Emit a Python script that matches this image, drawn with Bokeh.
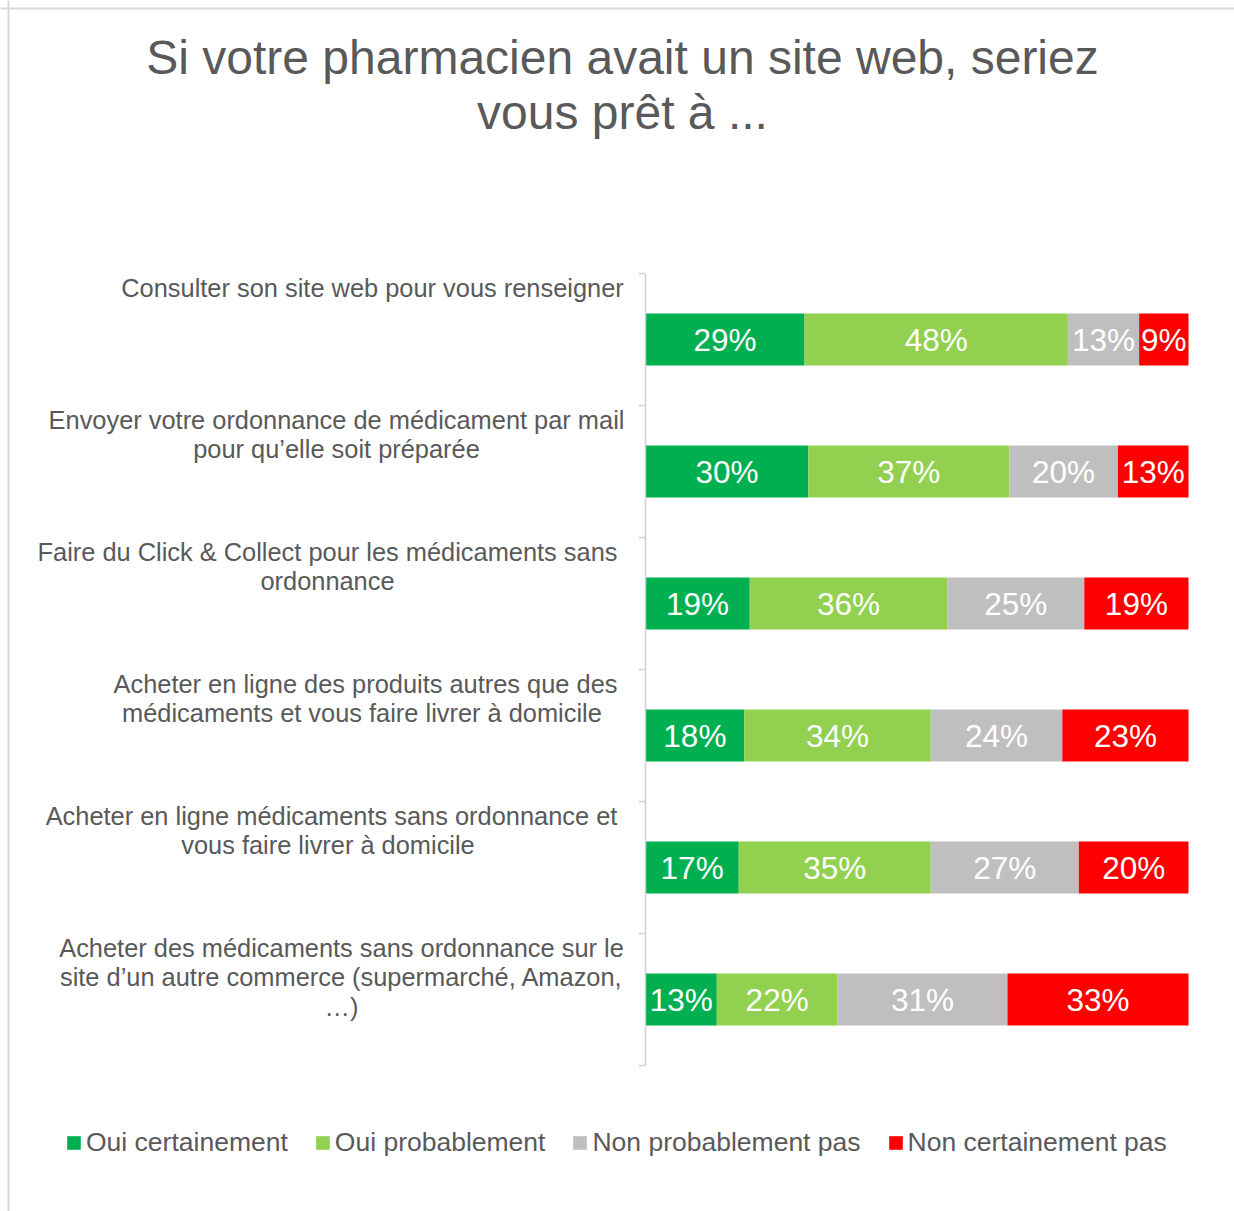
from bokeh.plotting import figure
from bokeh.models import ColumnDataSource, Range1d, Legend, LegendItem, Span
from bokeh.core.properties import value
from bokeh.embed import file_html
from bokeh.resources import INLINE

# ---------------- data ----------------
categories = [
    "Consulter son site web pour vous renseigner",
    "Envoyer votre ordonnance de médicament par mail\npour qu’elle soit préparée",
    "Faire du Click & Collect pour les médicaments sans\nordonnance",
    "Acheter en ligne des produits autres que des\nmédicaments et vous faire  livrer à domicile",
    "Acheter en ligne médicaments sans ordonnance et\nvous faire  livrer à domicile",
    "Acheter des médicaments sans ordonnance sur le\nsite d’un autre commerce (supermarché, Amazon,\n…)",
]
series_names = ["Oui certainement", "Oui probablement", "Non probablement pas", "Non certainement pas"]
oui_certainement = [29, 30, 19, 18, 17, 13]
oui_probablement = [48, 37, 36, 34, 35, 22]
non_probablement_pas = [13, 20, 25, 24, 27, 31]
non_certainement_pas = [9, 13, 19, 23, 20, 33]
series_values = [oui_certainement, oui_probablement, non_probablement_pas, non_certainement_pas]
title_lines = ["Si votre pharmacien avait un site web, seriez", "vous prêt à ..."]

# ---------------- style / layout ----------------
colors = ["#00B050", "#92D050", "#BFBFBF", "#FF0000"]
FONT = "Liberation Sans"
TEXT_COLOR = "#595959"
W, H = 1234, 1211
ZERO_PX = 645      # x where bars start
FULL_PX = 543      # full bar length in px
ROW0_PX = 339      # y of first row centre
ROW_PX = 132       # row pitch in px
BORDER_PX = 8
label_centers_px = [372, 336, 327, 365, 331, 341]
title_center_px = 622
title_baselines_px = [57, 112]
BAR_H = 52 / ROW_PX


def xd(px):
    return (px - ZERO_PX) / FULL_PX * 100.0


def yd(py):
    return (py - ROW0_PX) / ROW_PX


p = figure(
    width=W, height=H,
    x_range=Range1d(xd(0), xd(W)),
    y_range=Range1d(yd(H), yd(0)),
    output_backend="svg", toolbar_location=None,
    x_axis_location=None, y_axis_location=None,
    min_border=0,
)
p.grid.visible = False
p.outline_line_color = None
p.background_fill_color = "white"
p.border_fill_color = "white"

# chart-area border (top and left visible)
p.add_layout(Span(location=xd(BORDER_PX), dimension="height", line_color="#d9d9d9", line_width=2))
p.add_layout(Span(location=yd(BORDER_PX), dimension="width", line_color="#d9d9d9", line_width=2))

n = len(categories)
rows = list(range(n))
totals = [sum(s[i] for s in series_values) for i in rows]

renderers = []
cum = [0.0] * n
for name, vals, col in zip(series_names, series_values, colors):
    left = [cum[i] for i in rows]
    right = [cum[i] + vals[i] / totals[i] * 100.0 for i in rows]
    cum = right
    src = ColumnDataSource(dict(
        y=rows, left=left, right=right,
        mid=[(l + r) / 2 for l, r in zip(left, right)],
        lab=[f"{v}%" for v in vals],
    ))
    r = p.hbar(y="y", left="left", right="right", height=BAR_H, source=src,
               fill_color=col, line_color=None)
    renderers.append(r)
    p.text(x="mid", y="y", text="lab", source=src, text_color="white",
           text_font=value(FONT), text_font_size="31.5px",
           text_align="center", text_baseline="middle")

# axis line with ticks at category boundaries
edges = [i - 0.5 for i in range(n + 1)]
p.segment(x0=[0], y0=[edges[0]], x1=[0], y1=[edges[-1]], line_color="#d0d0d0", line_width=1.5)
p.segment(x0=[xd(ZERO_PX - 7)] * len(edges), y0=edges, x1=[0] * len(edges), y1=edges,
          line_color="#d0d0d0", line_width=1.5)

# category labels (each line centred within its block)
lx, ly, lt = [], [], []
for i, (cat, cpx) in enumerate(zip(categories, label_centers_px)):
    band_top = ROW0_PX - ROW_PX / 2 + i * ROW_PX
    for k, line in enumerate(cat.split("\n")):
        lx.append(xd(cpx))
        ly.append(yd(band_top + 14 + 29.5 * k))
        lt.append(line)
p.text(x=lx, y=ly, text=lt, text_color=TEXT_COLOR, text_font=value(FONT),
       text_font_size="25.4px", text_align="center", text_baseline="alphabetic")

# title
p.text(x=[xd(title_center_px)] * 2, y=[yd(b) for b in title_baselines_px], text=title_lines,
       text_color=TEXT_COLOR, text_font=value(FONT), text_font_size="48px",
       text_align="center", text_baseline="alphabetic")

legend = Legend(
    items=[LegendItem(label=nm, renderers=[r]) for nm, r in zip(series_names, renderers)],
    orientation="horizontal", location=(65, 53), padding=0, margin=0, spacing=26,
    glyph_width=17, glyph_height=17, label_standoff=4,
    label_text_font=FONT, label_text_font_size="26.5px", label_text_color=TEXT_COLOR,
    border_line_color=None, background_fill_alpha=0,
)
p.add_layout(legend)

open("out.html", "w").write(file_html(p, INLINE))
